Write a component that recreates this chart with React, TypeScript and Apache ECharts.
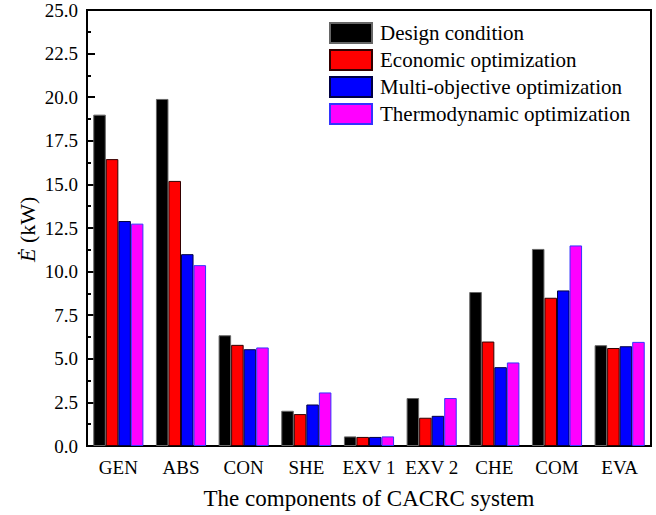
import React, { useEffect, useRef } from "react";
import * as echarts from "echarts";

const categories = ["GEN", "ABS", "CON", "SHE", "EXV 1", "EXV 2", "CHE", "COM", "EVA"];
const seriesNames = [
  "Design condition",
  "Economic optimization",
  "Multi-objective optimization",
  "Thermodynamic optimization",
];
const designValues = [19.0, 19.9, 6.35, 2.02, 0.55, 2.75, 8.83, 11.3, 5.78];
const economicValues = [16.45, 15.2, 5.8, 1.83, 0.52, 1.62, 5.99, 8.5, 5.62];
const multiValues = [12.9, 11.0, 5.55, 2.38, 0.52, 1.73, 4.52, 8.92, 5.72];
const thermoValues = [12.75, 10.37, 5.65, 3.07, 0.55, 2.75, 4.79, 11.5, 5.97];
const yTicks = [0, 2.5, 5, 7.5, 10, 12.5, 15, 17.5, 20, 22.5, 25];

const FONT = '"Liberation Serif", "Times New Roman", serif';

export default function App() {
  const ref = useRef<HTMLDivElement>(null);
  useEffect(() => {
    if (!ref.current) return;
    const chart = echarts.init(ref.current, null, { renderer: "svg" });
    const fills = ["#000000", "#ff0000", "#0000ff", "#ff00ff"];
    const borders = ["#666666", "#330000", "#000044", "#3333ff"];
    const values = [designValues, economicValues, multiValues, thermoValues];
    chart.setOption({
      animation: false,
      backgroundColor: "#ffffff",
      textStyle: { fontFamily: FONT },
      grid: {
        left: 87,
        right: 5,
        top: 10,
        bottom: 68,
        show: true,
        borderColor: "#000",
        borderWidth: 2,
        backgroundColor: "transparent",
      },
      legend: {
        orient: "vertical",
        left: 329,
        top: 22,
        itemWidth: 42,
        itemHeight: 20,
        itemGap: 5,
        padding: 0,
        icon: "rect",
        textStyle: {
          fontFamily: FONT,
          fontSize: 21,
          color: "#000",
          lineHeight: 20,
          padding: [0, 0, 0, 3],
        },
        data: seriesNames,
      },
      graphic: [
        {
          type: "group",
          x: 27,
          y: 228,
          rotation: Math.PI / 2,
          children: [
            {
              type: "text",
              x: -34,
              y: 0,
              style: {
                text: "Ė",
                fontFamily: FONT,
                fontSize: 22,
                fontStyle: "italic",
                fill: "#000",
                align: "left",
                verticalAlign: "middle",
              },
            },
            {
              type: "text",
              x: -15,
              y: 0,
              style: {
                text: "(kW)",
                fontFamily: FONT,
                fontSize: 22,
                fill: "#000",
                align: "left",
                verticalAlign: "middle",
              },
            },
          ],
        },
      ],
      xAxis: {
        type: "category",
        data: categories,
        name: "The components of CACRC system",
        nameLocation: "middle",
        nameGap: 41,
        nameTextStyle: { fontFamily: FONT, fontSize: 23, color: "#000" },
        axisLine: { show: true, lineStyle: { color: "#000", width: 2 } },
        axisTick: { show: false },
        axisLabel: { interval: 0, fontFamily: FONT, fontSize: 19, color: "#000", margin: 12 },
      },
      yAxis: {
        type: "value",
        min: yTicks[0],
        max: yTicks[yTicks.length - 1],
        interval: 2.5,
        axisLine: { show: true, lineStyle: { color: "#000", width: 2 } },
        axisTick: { show: true, inside: true, length: 8, lineStyle: { color: "#000", width: 2 } },
        minorTick: { show: true, splitNumber: 2, length: 4, lineStyle: { color: "#000", width: 2 } },
        splitLine: { show: false },
        axisLabel: {
          fontFamily: FONT,
          fontSize: 19,
          color: "#000",
          margin: 9,
          formatter: (v: number) => v.toFixed(1),
        },
      },
      series: seriesNames.map((name, i) => ({
        name,
        type: "bar",
        data: values[i],
        barGap: "0%",
        barCategoryGap: "20%",
        itemStyle: { color: fills[i], borderColor: borders[i], borderWidth: 1 },
      })),
    });
    return () => chart.dispose();
  }, []);
  return (
    <div
      ref={ref}
      style={{ position: "fixed", left: 0, top: 0, width: 656, height: 515, background: "#fff" }}
    />
  );
}
